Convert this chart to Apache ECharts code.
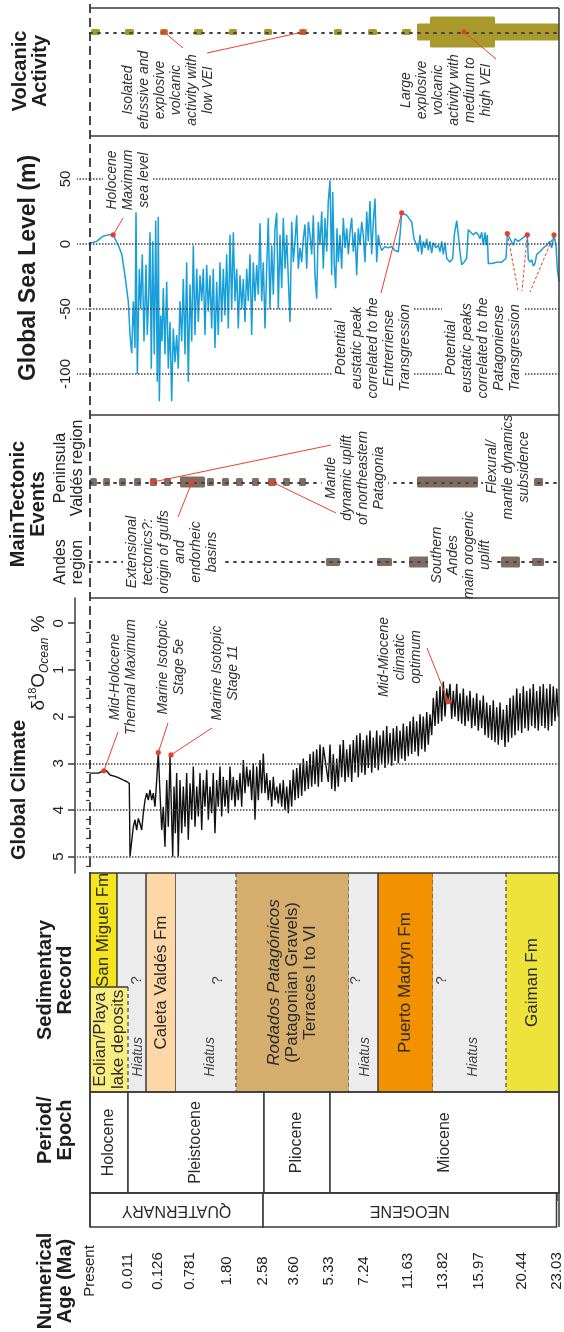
<!DOCTYPE html>
<html><head><meta charset="utf-8">
<script src="https://cdn.jsdelivr.net/npm/echarts@6/dist/echarts.min.js"></script>
<style>html,body{margin:0;padding:0;background:#fff}#c{width:564px;height:1332px}</style>
</head><body><div id="c"></div>
<script>
// ================= DATA =================
const AGE_TICKS = [0, 0.011, 0.126, 0.781, 1.80, 2.58, 3.60, 5.33, 7.24, 11.63, 13.82, 15.97, 20.44, 23.03];
const AGE_LABELS = ['Present', '0.011', '0.126', '0.781', '1.80', '2.58', '3.60', '5.33', '7.24', '11.63', '13.82', '15.97', '20.44', '23.03'];
const SEA_TICKS = [-100, -50, 0, 50];
const CLIMATE_TICKS = [0, 1, 2, 3, 4, 5];

// Global sea level (m) vs age (Ma)
const SEA_LEVEL = [
[0,0.5],[0.0019,2],[0.0038,6],[0.0053,7],[0.0067,7],[0.0082,-1],[0.0092,-8],[0.0101,-24],[0.0121,-44],[0.0187,-70],
[0.0252,-84],[0.0313,-44],[0.0378,-80],[0.0417,27],[0.0467,-100],[0.0543,-19],[0.0597,-50],[0.0658,-8],[0.0723,-75],[0.080,-16],
[0.085,-70],[0.0904,-39],[0.0953,9],[0.1003,-96],[0.1057,2],[0.1118,-85],[0.1172,18],[0.1233,-106],[0.132,21],[0.153,-121],
[0.181,-55],[0.208,-75],[0.235,-34],[0.269,-85],[0.304,-29],[0.337,-96],[0.372,-60],[0.406,-121],[0.439,-65],[0.474,-91],
[0.508,-70],[0.541,-96],[0.576,-44],[0.611,-75],[0.644,-27],[0.679,-85],[0.713,-14],[0.746,-106],[0.781,-31],[0.827,-75],
[0.870,-1],[0.915,-70],[0.961,-19],[1.004,-60],[1.049,-24],[1.095,-44],[1.138,-19],[1.183,-70],[1.229,-16],[1.272,-52],
[1.317,-24],[1.362,-65],[1.405,-19],[1.450,-80],[1.496,-29],[1.539,-70],[1.585,-14],[1.630,-60],[1.673,-19],[1.718,-55],
[1.764,-8],[1.807,-65],[1.843,7],[1.880,-50],[1.915,9],[1.952,-44],[1.989,-19],[2.023,-65],[2.060,-24],[2.097,-50],
[2.132,-27],[2.168,-60],[2.205,-19],[2.240,-44],[2.277,-8],[2.313,-70],[2.348,-14],[2.385,-44],[2.422,-16],[2.457,-39],
[2.493,16],[2.530,-44],[2.565,-14],[2.613,-65],[2.669,-19],[2.721,20],[2.777,-50],[2.833,-1],[2.886,-39],[2.942,12],
[2.998,24],[3.051,-50],[3.106,7],[3.162,-34],[3.215,20],[3.271,-19],[3.327,7],[3.380,-27],[3.436,-60],[3.491,17],
[3.544,-14],[3.600,2],[3.684,22],[3.763,-19],[3.847,-3],[3.931,-14],[4.010,4],[4.094,15],[4.178,-19],[4.258,17],
[4.342,7],[4.426,-8],[4.505,22],[4.589,-24],[4.672,-42],[4.752,17],[4.836,-1],[4.920,25],[4.999,-19],[5.083,20],
[5.167,-6],[5.246,33],[5.330,49],[5.423,-24],[5.477,40],[5.565,-16],[5.641,-34],[5.712,12],[5.783,-14],[5.876,7],
[5.968,-19],[6.056,20],[6.149,-3],[6.241,12],[6.329,-8],[6.421,9],[6.514,20],[6.601,-6],[6.694,9],[6.787,-24],
[6.874,12],[6.967,-1],[7.060,17],[7.147,7],[7.240,-14],[7.406,25],[7.562,2],[7.728,33],[7.894,-8],[8.050,17],
[8.216,35],[8.381,-14],[8.538,7],[8.703,-1],[8.869,-5],[9.191,-2],[9.513,-3],[9.839,-2],[10.167,-5],[10.486,-6],
[10.656,7],[10.822,24],[11.31,22],[11.736,17],[11.880,4],[12.049,-1],[12.149,-6],[12.256,7],[12.362,-8],[12.462,2],
[12.569,-3],[12.675,4],[12.775,-5],[12.881,2],[12.988,-7],[13.088,1],[13.257,-3],[13.401,-1],[13.507,-6],[13.614,2],
[13.714,-8],[13.820,1],[13.921,-11],[14.119,-14],[14.280,-11],[14.375,7],[14.519,18],[14.614,7],[14.716,-6],[14.817,-16],
[14.955,-14],[15.116,-11],[15.211,11],[15.355,9],[15.510,7],[15.671,9],[15.809,7],[15.911,4],[16.043,9],[16.209,-1],
[16.386,9],[16.490,-1],[16.625,7],[16.729,-15],[17.082,-15],[17.602,-14],[18.122,-14],[18.571,-11],[18.706,8],[18.986,4],
[19.329,-1],[19.505,4],[19.848,2],[20.201,4],[20.514,6],[20.684,7],[20.758,-12],[20.884,-14],[21.010,-12],[21.128,-17],
[21.254,-15],[21.380,-8],[21.624,-6],[21.868,-3],[22.120,-1],[22.364,2],[22.490,-3],[22.660,7],[22.808,-1],[22.904,-19],
[23.03,-29]
];

// Global climate: d18O (per mil) vs age (Ma)
const CLIMATE = [
[0,3.21],[0.0024,3.21],[0.0040,3.16],[0.0048,3.16],[0.0058,3.25],[0.0077,3.29],[0.0097,3.36],[0.0106,3.39],[0.016,3.43],[0.0187,5.0],
[0.0313,4.36],[0.0378,4.21],[0.0443,4.43],[0.0505,4.18],[0.057,4.29],[0.0635,4.43],[0.0696,4.07],[0.0762,3.79],[0.0826,3.64],[0.0888,3.79],
[0.0953,3.57],[0.1018,3.79],[0.108,3.64],[0.1145,3.93],[0.121,3.36],[0.132,2.77],[0.167,3.64],[0.202,4.43],[0.235,3.93],[0.269,4.79],
[0.304,3.36],[0.337,4.36],[0.372,2.86],[0.392,2.82],[0.427,5.0],[0.454,3.5],[0.481,4.5],[0.508,3.21],[0.541,5.0],[0.576,3.36],
[0.611,4.5],[0.644,3.5],[0.679,4.36],[0.713,3.21],[0.746,4.64],[0.781,3.43],[0.827,4.21],[0.870,3.07],[0.915,4.36],[0.961,3.5],
[1.004,4.14],[1.049,3.21],[1.095,4.43],[1.138,3.36],[1.183,3.93],[1.229,3.14],[1.272,4.21],[1.317,3.5],[1.362,4.07],[1.405,3.21],
[1.450,4.5],[1.496,3.36],[1.539,3.93],[1.585,3.07],[1.630,4.14],[1.673,3.29],[1.718,3.93],[1.764,3.36],[1.807,4.07],[1.843,3.07],
[1.880,3.79],[1.915,3.29],[1.952,3.93],[1.989,3.36],[2.023,3.79],[2.060,3.21],[2.097,3.93],[2.132,2.93],[2.168,3.64],[2.205,3.07],
[2.240,3.5],[2.277,3.14],[2.313,3.79],[2.348,3.0],[2.385,4.21],[2.422,3.07],[2.457,3.79],[2.493,2.93],[2.530,3.64],[2.565,2.79],
[2.613,3.64],[2.669,3.21],[2.721,3.79],[2.777,3.36],[2.833,3.93],[2.886,3.29],[2.942,3.79],[2.998,3.5],[3.051,3.86],[3.106,3.43],
[3.162,3.93],[3.215,3.36],[3.271,4.0],[3.327,3.5],[3.380,4.07],[3.436,3.36],[3.491,3.93],[3.544,3.14],[3.600,3.79],[3.684,3.1],
[3.763,3.75],[3.847,3.0],[3.931,3.7],[4.010,2.9],[4.094,3.6],[4.178,2.95],[4.258,3.55],[4.342,2.8],[4.426,3.5],[4.505,2.75],
[4.589,3.45],[4.672,2.7],[4.752,3.5],[4.836,2.6],[4.920,3.4],[4.999,2.65],[5.246,3.4],[5.330,2.6],[5.423,3.55],[5.510,2.8],
[5.603,3.6],[5.696,2.9],[5.783,3.5],[5.876,2.6],[5.968,3.3],[6.056,2.5],[6.149,3.4],[6.241,2.7],[6.329,3.3],[6.421,2.6],
[6.514,3.4],[6.601,2.5],[6.694,3.2],[6.787,2.4],[6.874,3.3],[6.967,2.35],[7.060,3.2],[7.147,2.5],[7.240,3.25],[7.406,2.4],
[7.562,3.1],[7.728,2.3],[7.894,3.2],[8.050,2.45],[8.216,3.1],[8.381,2.3],[8.538,3.15],[8.703,2.4],[8.869,3.0],[9.025,2.3],
[9.191,3.1],[9.357,2.2],[9.513,3.0],[9.679,2.35],[9.845,3.05],[10.001,2.25],[10.167,2.95],[10.332,2.2],[10.489,3.0],[10.654,2.3],
[10.820,2.9],[10.976,2.15],[11.142,2.95],[11.308,2.2],[11.464,2.85],[11.630,2.1],[11.736,2.8],[11.836,2.0],[11.943,2.75],[12.049,2.1],
[12.149,2.85],[12.256,1.95],[12.362,2.7],[12.462,2.0],[12.569,2.75],[12.675,1.9],[12.775,2.6],[12.881,1.95],[12.988,2.4],[13.088,1.6],
[13.194,2.2],[13.301,1.45],[13.401,2.15],[13.507,1.35],[13.614,2.1],[13.714,1.25],[13.820,2.0],[13.921,1.4],[14.017,1.68],[14.119,1.3],
[14.220,2.05],[14.316,1.45],[14.417,2.0],[14.519,1.3],[14.614,2.1],[14.716,1.5],[14.817,2.15],[14.913,1.4],[15.014,2.2],[15.116,1.55],
[15.211,2.1],[15.313,1.45],[15.414,2.25],[15.510,1.6],[15.612,2.2],[15.713,1.5],[15.809,2.3],[15.911,1.65],[16.043,2.25],[16.209,1.55],
[16.386,2.4],[16.563,1.7],[16.729,2.45],[16.906,1.75],[17.082,2.5],[17.249,1.65],[17.425,2.55],[17.602,1.8],[17.768,2.6],[17.945,1.7],
[18.122,2.5],[18.288,1.85],[18.465,2.65],[18.642,1.75],[18.808,2.55],[18.986,1.6],[19.162,2.45],[19.329,1.55],[19.505,2.4],[19.682,1.4],
[19.848,2.3],[20.024,1.5],[20.201,2.35],[20.367,1.35],[20.514,2.25],[20.640,1.45],[20.758,2.3],[20.884,1.4],[21.010,2.2],[21.128,1.3],
[21.254,2.25],[21.380,1.45],[21.498,2.3],[21.624,1.35],[21.750,2.2],[21.868,1.3],[21.994,2.25],[22.120,1.4],[22.238,2.3],[22.364,1.3],
[22.490,2.2],[22.608,1.35],[22.734,2.1],[22.860,1.4],[22.978,2.0]
];

// Highlighted points
const SEA_PEAKS = [[0.0067,7],[10.822,24],[18.706,8],[20.684,7],[22.660,7]];
const CLIMATE_EVENTS = [[0.004,3.16],[0.132,2.77],[0.392,2.82],[14.017,1.68]];
const VOLCANIC_NOTES = [0.249, 3.995, 14.955];
const TECTONIC_NOTES = [0.107, 0.835, 2.843];

// Volcanic activity episodes [fromMa, toMa, level 1=low VEI, 2=medium, 3=high]
const VOLCANIC = [[0.0003,0.0029,1],[0.0101,0.034,1],[0.167,0.331,1],[0.888,1.130,1],[1.822,1.995,1],[2.580,2.843,1],
  [3.798,4.193,1],[5.548,5.985,1],[7.533,8.411,1],[10.85,11.69,1],[12.068,23.03,2],[12.881,17.425,3]];
// Tectonic events [fromMa, toMa, level]
const TECTONIC_VALDES = [[0,0.0020,1],[0.0038,0.0058,1],[0.0084,0.0104,1],[0.034,0.061,1],[0.095,0.122,1],[0.249,0.392,1],
  [0.576,1.183,2],[1.237,1.424,1],[1.639,1.822,1],[1.973,2.125,1],[2.320,2.472,1],[2.712,2.975,1],[3.205,3.436,1],
  [3.798,4.144,1],[12.068,15.791,2],[21.18,21.85,1]];
const TECTONIC_ANDES = [[5.132,5.876,1],[8.411,9.874,1],[11.532,12.881,2],[18.05,20.02,2],[21.03,21.92,1]];

// Sedimentary record
const SED_UNITS = [
  {name:'Hiatus', from:0.0078, to:0.080, qAt:0.0455, labelAt:0.049},
  {name:'San Miguel Fm', from:0, to:0.0078},
  {name:'Eolian/Playa\nlake deposits', from:0, to:0.011},
  {name:'Caleta Valdés Fm', from:0.080, to:0.494},
  {name:'Hiatus', from:0.494, to:1.973, qAt:1.532, labelAt:1.317},
  {name:'Rodados Patagónicos', from:1.973, to:6.367},
  {name:'Hiatus', from:6.367, to:8.508, qAt:6.749, labelAt:7.24},
  {name:'Puerto Madryn Fm', from:8.508, to:13.07},
  {name:'Hiatus', from:13.07, to:18.57, qAt:13.63, labelAt:15.51},
  {name:'Gaiman Fm', from:18.57, to:23.03}
];
const PERIODS = [['Holocene',0,0.011],['Pleistocene',0.011,2.58],['Pliocene',2.58,5.33],['Miocene',5.33,23.03]];
const ERAS = [['QUATERNARY',0,2.58],['NEOGENE',2.58,23.03]];

// ================= LAYOUT & STYLE =================
const FONT = '"Liberation Sans", Arial, Helvetica, sans-serif';
const PLOT_LEFT = 90, PLOT_W = 469, PLOT_RIGHT = 559;
const TICK_OFFSETS = [0,38,68,100,138,174,205,240,275,320,355,391,434,469];
const PANELS = [[8,136],[136,415],[415,598],[598,873],[873,1092],[1092,1193],[1193,1227]];
const TRACK_VOLC = 0.1875, TRACK_VALDES = 0.366, TRACK_ANDES = 0.803;
const LINE = '#3a3a3a', RED = '#e8402c';
const VOLC_H = {1:6, 2:17, 3:31};
const TECT_H = {1:8, 2:11};
const SED_STYLE = {
  'Hiatus': {fill:'#ececec'},
  'San Miguel Fm': {fill:'#f6e51c', rows:[0,0.52], edges:['solid','solid']},
  'Eolian/Playa\nlake deposits': {fill:'#fbee80', rows:[0.52,1], edges:['solid','dashed'], top:true},
  'Caleta Valdés Fm': {fill:'#fdd8a6', edges:['solid','solid']},
  'Rodados Patagónicos': {fill:'#d5ae6e', edges:['dashed','dashed'],
     text:'{i|Rodados Patagónicos}\n(Patagonian Gravels)\nTerraces I to VI'},
  'Puerto Madryn Fm': {fill:'#f39200', edges:['solid','dashed']},
  'Gaiman Fm': {fill:'#eee33a', edges:['dashed','solid']}
};
const LEADER_VOLC = [[183,48],[207,53],[496,59]];
const LEADER_SEA = [[123,218],[381,293],[518,290],[522,291],[530,292]];
const LEADER_SEA_DASH = [0,0,1,1,1];
const LEADER_TECT = [[331,445],[178,517],[336,513]];
const LEADER_CLIM = [[118,732],[168,723],[212,728],[427,648]];

function warp(age){
  for (let i = 0; i < AGE_TICKS.length - 1; i++) {
    if (age <= AGE_TICKS[i+1]) {
      const t = (age - AGE_TICKS[i]) / (AGE_TICKS[i+1] - AGE_TICKS[i]);
      return TICK_OFFSETS[i] + t * (TICK_OFFSETS[i+1] - TICK_OFFSETS[i]);
    }
  }
  return TICK_OFFSETS[TICK_OFFSETS.length-1];
}

const chart = echarts.init(document.getElementById('c'), null, {renderer:'canvas'});

const grid = PANELS.map(p => ({left:PLOT_LEFT, width:PLOT_W, top:p[0], height:p[1]-p[0]}));
const xAxis = PANELS.map((p,i) => ({gridIndex:i, type:'value', min:0, max:PLOT_W, show:false}));
xAxis[6] = {gridIndex:6, type:'value', min:0, max:PLOT_W, position:'bottom',
  axisLine:{show:true, lineStyle:{color:LINE, width:1.5}},
  axisTick:{show:true, customValues:TICK_OFFSETS.slice(1), length:8, lineStyle:{color:LINE, width:1.5}},
  axisLabel:{customValues:TICK_OFFSETS, rotate:90, align:'center', verticalAlign:'middle', margin:44,
    fontSize:15, color:'#222', fontFamily:FONT,
    formatter: v => AGE_LABELS[TICK_OFFSETS.indexOf(v)] || ''},
  splitLine:{show:false}};

const minorVals = [];
for (let i = 0; i <= 26; i++) { const v = Math.round(i*0.2*10)/10; if (Math.abs(v - Math.round(v)) > 1e-6) minorVals.push(v); }

const hidden01 = gi => ({gridIndex:gi, type:'value', min:0, max:1, inverse:true, show:false});
const yAxis = [
  hidden01(0),
  {gridIndex:1, type:'value', min:-131.5, max:83, position:'left',
    axisLine:{show:false},
    axisTick:{show:true, customValues:SEA_TICKS, length:13, lineStyle:{type:'dotted', color:'#444', width:1.5}},
    axisLabel:{customValues:SEA_TICKS, rotate:90, margin:17, fontSize:15, color:'#222', fontFamily:FONT},
    splitLine:{show:false}},
  hidden01(2),
  {gridIndex:3, type:'value', min:-0.54, max:5.35, inverse:true, position:'left', offset:15,
    axisLine:{show:true, onZero:false, lineStyle:{color:LINE, width:1.5}},
    axisTick:{show:true, customValues:CLIMATE_TICKS, length:7, lineStyle:{color:LINE, width:1.5}},
    axisLabel:{customValues:CLIMATE_TICKS, rotate:90, margin:9, fontSize:15, color:'#222', fontFamily:FONT},
    splitLine:{show:false}},
  {gridIndex:3, type:'value', min:-0.54, max:5.35, inverse:true, position:'left', offset:15,
    axisLine:{show:false}, axisLabel:{show:false}, splitLine:{show:false},
    axisTick:{show:true, customValues:minorVals, length:4, lineStyle:{color:LINE, width:1.2}}},
  {gridIndex:3, type:'value', min:-0.54, max:5.35, inverse:true, position:'left', offset:0,
    axisLine:{show:false}, axisLabel:{show:false}, splitLine:{show:false},
    axisTick:{show:true, customValues:[3,4,5], length:13, lineStyle:{type:'dotted', color:'#444', width:1.5}}},
  hidden01(4), hidden01(5), hidden01(6)
];

function trackLine(y){
  return {silent:true, symbol:['none','none'], label:{show:false}, animation:false,
    lineStyle:{type:[2,6], color:'#444', width:2, cap:'round'}, data:[{yAxis:y}]};
}
function gridLines(vals){
  return {silent:true, symbol:['none','none'], label:{show:false}, animation:false,
    lineStyle:{type:'dotted', color:'#444', width:1.5}, data:vals.map(v => ({yAxis:v}))};
}
function trackRender(trackY, heights, color){
  return function(params, api){
    const a = api.coord([api.value(0), trackY]);
    const b = api.coord([api.value(1), trackY]);
    const h = heights[api.value(2)];
    return {type:'rect', shape:{x:a[0], y:a[1]-h/2, width:Math.max(1,b[0]-a[0]), height:h, r:1.5}, style:{fill:color}};
  };
}
function calloutRender(ends, dashes){
  return function(params, api){
    const p = api.coord([api.value(0), api.value(1)]);
    const e = ends[params.dataIndex];
    const dash = dashes && dashes[params.dataIndex] ? [3,2] : null;
    return {type:'group', children:[
      {type:'line', shape:{x1:p[0], y1:p[1], x2:e[0], y2:e[1]}, style:{stroke:RED, lineWidth:1, lineDash:dash}},
      {type:'circle', shape:{cx:p[0], cy:p[1], r:2.6}, style:{fill:RED}}
    ]};
  };
}
function rotText(x, y, text, font, fill, rot, extra){
  return Object.assign({type:'text', x:x, y:y, rotation:rot === undefined ? Math.PI/2 : rot,
    style:Object.assign({text:text, font:font, fill:fill, align:'center', verticalAlign:'middle'}, extra || {})});
}

function sedRender(params, api){
  const u = SED_UNITS[params.dataIndex];
  const st = SED_STYLE[u.name];
  const rows = st.rows || [0,1];
  const p0 = api.coord([api.value(0), rows[0]]);
  const p1 = api.coord([api.value(1), rows[1]]);
  const x0 = p0[0], x1 = p1[0], y0 = p0[1], y1 = p1[1];
  const kids = [{type:'rect', shape:{x:x0, y:y0, width:x1-x0, height:y1-y0}, style:{fill:st.fill}}];
  if (st.edges) {
    [[x0, st.edges[0]], [x1, st.edges[1]]].forEach(([x, s]) => {
      kids.push({type:'line', shape:{x1:x, y1:y0, x2:x, y2:y1},
        style:{stroke:s === 'dashed' ? '#666' : LINE, lineWidth:1.5, lineDash:s === 'dashed' ? [4,3] : null}});
    });
  }
  if (st.top) kids.push({type:'line', shape:{x1:x0, y1:y0, x2:x1, y2:y0}, style:{stroke:LINE, lineWidth:1.5}});
  if (u.name === 'Hiatus') {
    const q = api.coord([warp(u.qAt), 0.49]);
    const l = api.coord([warp(u.labelAt), 0.84]);
    kids.push(rotText(q[0], q[1], '?', '15px ' + FONT, '#444'));
    kids.push(rotText(l[0], l[1], 'Hiatus', 'italic 14px ' + FONT, '#444'));
  } else {
    const t = st.text || u.name;
    kids.push(rotText((x0+x1)/2, (y0+y1)/2, t, '17px ' + FONT, '#2a2a2a',
      undefined, {lineHeight:18, rich:{i:{fontStyle:'italic', fontSize:17, fontFamily:FONT, fill:'#2a2a2a', lineHeight:18}}}));
  }
  return {type:'group', children:kids};
}
function boxRender(list, rot, fontSize){
  return function(params, api){
    const item = list[params.dataIndex];
    const p0 = api.coord([api.value(0), 0]);
    const p1 = api.coord([api.value(1), 1]);
    return {type:'group', children:[
      {type:'rect', shape:{x:p0[0], y:p0[1], width:p1[0]-p0[0], height:p1[1]-p0[1]}, style:{fill:'#fff', stroke:LINE, lineWidth:1.5}},
      rotText((p0[0]+p1[0])/2, (p0[1]+p1[1])/2, item[0], fontSize + 'px ' + FONT, '#2a2a2a', rot)
    ]};
  };
}

const series = [
  {type:'custom', name:'Volcanic activity', xAxisIndex:0, yAxisIndex:0, renderItem:trackRender(TRACK_VOLC, VOLC_H, '#a9992c'),
    data:VOLCANIC.map(d => [warp(d[0]), warp(d[1]), d[2]]), encode:{x:[0,1]}, markLine:trackLine(TRACK_VOLC), z:3},
  {type:'custom', xAxisIndex:0, yAxisIndex:0, renderItem:calloutRender(LEADER_VOLC), z:15,
    data:VOLCANIC_NOTES.map(a => [warp(a), TRACK_VOLC]), encode:{x:0, y:1}},
  {type:'line', name:'Global sea level', xAxisIndex:1, yAxisIndex:1, showSymbol:false, symbol:'none',
    lineStyle:{color:'#189fda', width:1.5}, data:SEA_LEVEL.map(d => [warp(d[0]), d[1]]),
    markLine:gridLines(SEA_TICKS), z:3},
  {type:'custom', xAxisIndex:1, yAxisIndex:1, renderItem:calloutRender(LEADER_SEA, LEADER_SEA_DASH), z:15,
    data:SEA_PEAKS.map(d => [warp(d[0]), d[1]]), encode:{x:0, y:1}},
  {type:'custom', name:'Peninsula Valdés', xAxisIndex:2, yAxisIndex:2, renderItem:trackRender(TRACK_VALDES, TECT_H, '#7f6d62'),
    data:TECTONIC_VALDES.map(d => [warp(d[0]), warp(d[1]), d[2]]), encode:{x:[0,1]}, markLine:trackLine(TRACK_VALDES), z:3},
  {type:'custom', name:'Andes', xAxisIndex:2, yAxisIndex:2, renderItem:trackRender(TRACK_ANDES, TECT_H, '#7f6d62'),
    data:TECTONIC_ANDES.map(d => [warp(d[0]), warp(d[1]), d[2]]), encode:{x:[0,1]}, markLine:trackLine(TRACK_ANDES), z:3},
  {type:'custom', xAxisIndex:2, yAxisIndex:2, renderItem:calloutRender(LEADER_TECT), z:15,
    data:TECTONIC_NOTES.map(a => [warp(a), TRACK_VALDES]), encode:{x:0, y:1}},
  {type:'line', name:'d18O', xAxisIndex:3, yAxisIndex:3, showSymbol:false, symbol:'none',
    lineStyle:{color:'#111', width:1.4}, data:CLIMATE.map(d => [warp(d[0]), d[1]]),
    markLine:gridLines([3,4,5]), z:3},
  {type:'custom', xAxisIndex:3, yAxisIndex:3, renderItem:calloutRender(LEADER_CLIM), z:15,
    data:CLIMATE_EVENTS.map(d => [warp(d[0]), d[1]]), encode:{x:0, y:1}},
  {type:'custom', name:'Sedimentary record', xAxisIndex:4, yAxisIndex:6, renderItem:sedRender,
    data:SED_UNITS.map(u => [warp(u.from), warp(u.to)]), encode:{x:[0,1]}},
  {type:'custom', name:'Epoch', xAxisIndex:5, yAxisIndex:7, renderItem:boxRender(PERIODS, Math.PI/2, 16),
    data:PERIODS.map(p => [warp(p[1]), warp(p[2])]), encode:{x:[0,1]}},
  {type:'custom', name:'Period', xAxisIndex:6, yAxisIndex:8, renderItem:boxRender(ERAS, Math.PI, 16),
    data:ERAS.map(p => [warp(p[1]), warp(p[2])]), encode:{x:[0,1]}}
];

// ---- frames, titles, annotations ----
const G = [];
G.push({type:'line', z:40, shape:{x1:PLOT_LEFT, y1:4, x2:PLOT_LEFT, y2:PANELS[3][1]}, style:{stroke:'#333', lineWidth:1.8, lineDash:[9,5]}});
G.push({type:'line', z:40, shape:{x1:PLOT_LEFT, y1:PANELS[4][0], x2:PLOT_LEFT, y2:PANELS[6][1]}, style:{stroke:LINE, lineWidth:1.5}});
G.push({type:'line', z:40, shape:{x1:PLOT_RIGHT, y1:PANELS[0][0], x2:PLOT_RIGHT, y2:PANELS[6][1]}, style:{stroke:LINE, lineWidth:1.5}});
PANELS.forEach(p => G.push({type:'line', z:40, shape:{x1:PLOT_LEFT, y1:p[0], x2:PLOT_RIGHT, y2:p[0]}, style:{stroke:LINE, lineWidth:1.5}}));

const TITLE = 'bold 20px ' + FONT;
const titleStyle = {lineHeight:20};
[[30,71,'Volcanic\nActivity',20],[29,268,'Global Sea Level (m)',23],[28,504,'MainTectonic\nEvents',20],[19,790,'Global Climate',20],
 [55,980,'Sedimentary\nRecord',20],[55,1130,'Period/\nEpoch',20],[55,1281,'Numerical\nAge (Ma)',20]].forEach(t => {
  G.push(Object.assign(rotText(t[0], t[1], t[2], 'bold ' + t[3] + 'px ' + FONT, '#1e1e1e', Math.PI/2, titleStyle), {z:30}));
});
G.push({type:'text', z:30, x:39, y:663, rotation:Math.PI/2, style:{
  text:'{m|δ}{s|18}{m|O}{b|Ocean}{m| %}', align:'center', verticalAlign:'middle',
  rich:{m:{fontSize:19, fontFamily:FONT, fill:'#1e1e1e', lineHeight:24},
        s:{fontSize:11, fontFamily:FONT, fill:'#1e1e1e', verticalAlign:'top', lineHeight:24},
        b:{fontSize:12, fontFamily:FONT, fontStyle:'italic', fill:'#1e1e1e', verticalAlign:'bottom', lineHeight:24}}}});
G.push(Object.assign(rotText(69, 468, 'Peninsula\nValdés region', '16px ' + FONT, '#222', Math.PI/2, {lineHeight:17}), {z:30}));
G.push(Object.assign(rotText(69, 562, 'Andes\nregion', '16px ' + FONT, '#222', Math.PI/2, {lineHeight:17}), {z:30}));

const NOTE = 'italic 14px ' + FONT;
const noteStyle = {lineHeight:16, backgroundColor:'#fff', padding:[1,2]};
[[168,90,'Isolated\nefussive and\nexplosive\nvolcanic\nactivity with\nlow VEI'],
 [446,90,'Large\nexplosive\nvolcanic\nactivity with\nmedium to\nhigh VEI'],
 [128,180,'Holocene\nMaximum\nsea level'],
 [373,348,'Potential\neustatic peak\ncorrelated to the\nEntrerriense\nTransgression'],
 [483,348,'Potential\neustatic peaks\ncorrelated to the\nPatagoniense\nTransgression'],
 [172,552,'Extensional\ntectonics?:\norigin of gulfs\nand\nendorheic\nbasins'],
 [355,478,'Mantle\ndynamic uplift\nof northeastern\nPatagonia'],
 [461,555,'Southern\nAndes\nmain orogenic\nuplift'],
 [508,467,'Flexural/\nmantle dynamics\nsubsidence'],
 [123,677,'Mid-Holocene\nThermal Maximum'],
 [171,667,'Marine Isotopic\nStage 5e'],
 [225,673,'Marine Isotopic\nStage 11'],
 [400,657,'Mid-Miocene\nclimatic\noptimum']].forEach(t => {
  G.push(Object.assign(rotText(t[0], t[1], t[2], NOTE, '#333', Math.PI/2, noteStyle), {z:10}));
});

chart.setOption({
  animation:false,
  textStyle:{fontFamily:FONT},
  grid:grid, xAxis:xAxis, yAxis:yAxis, series:series,
  graphic:{elements:G}
});
</script></body></html>
